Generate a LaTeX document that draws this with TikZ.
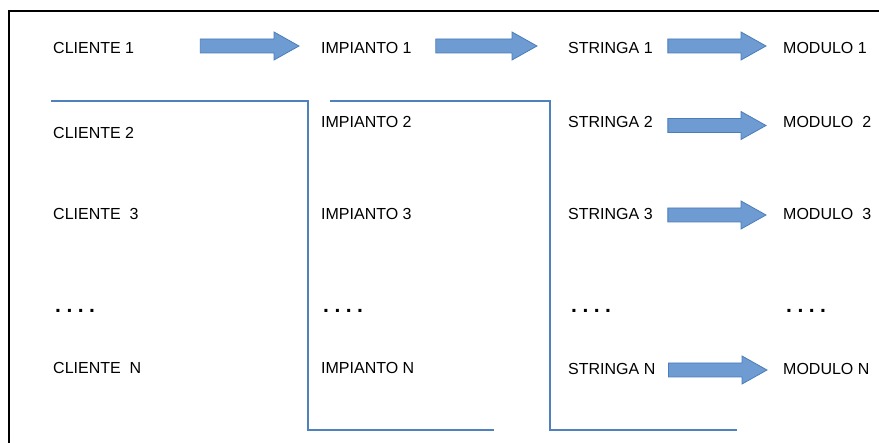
\documentclass[tikz,border=0pt]{standalone}
\usepackage{fontspec}
\setmainfont{Liberation Sans}
\usetikzlibrary{calc}

\definecolor{arrowfill}{RGB}{110,155,210}
\definecolor{arrowedge}{RGB}{74,126,187}
\definecolor{wireblue}{RGB}{79,129,189}

\begin{document}
\begin{tikzpicture}[
  x=1pt, y=-1pt,
  lbl/.style ={anchor=west, inner sep=0pt, font=\fontsize{16pt}{19pt}\selectfont},
  dots/.style={anchor=west, inner sep=0pt, font=\fontsize{21pt}{24pt}\selectfont\bfseries},
  wire/.style={draw=wireblue, line width=1.2pt},
  blk/.style ={draw=arrowedge, fill=arrowfill, line width=0.8pt,
               to path={let \p1=(\tikztostart), \p2=(\tikztotarget) in
                 (\x1,\y1+7pt) -- (\x2-25pt,\y1+7pt) -- (\x2-25pt,\y1+14pt)
                 -- (\x2,\y1) -- (\x2-25pt,\y1-14pt) -- (\x2-25pt,\y1-7pt)
                 -- (\x1,\y1-7pt) -- cycle}},
]
\clip (0,0) rectangle (879,443);
\fill[white] (0,0) rectangle (879,443);

% outer frame, cut off at the right and bottom
\draw[line width=2pt] (9,11) rectangle (905,470);

% ============================ columns of labels ============================
\node[lbl] (c1) at (53,48)  {CLIENTE 1};
\node[lbl] (c2) at (53,133) {CLIENTE 2};
\node[lbl] (c3) at (53,214) {CLIENTE~~3};
\node[lbl] (cn) at (53,368) {CLIENTE~~N};

\node[lbl] (i1) at (321,48)  {IMPIANTO 1};
\node[lbl] (i2) at (321,122) {IMPIANTO 2};
\node[lbl] (i3) at (321,214) {IMPIANTO 3};
\node[lbl] (in) at (321,368) {IMPIANTO N};

\node[lbl] (s1) at (568,48)  {STRINGA 1};
\node[lbl] (s2) at (568,122) {STRINGA 2};
\node[lbl] (s3) at (568,214) {STRINGA 3};
\node[lbl] (sn) at (568,369) {STRINGA N};

\node[lbl] (m1) at (783,48)  {MODULO 1};
\node[lbl] (m2) at (783,122) {MODULO~~2};
\node[lbl] (m3) at (783,214) {MODULO~~3};
\node[lbl] (mn) at (783,369) {MODULO N};

% the "...." row
\foreach \k/\x in {c/55, i/323, s/571, m/786} {
  \node[dots] (\k d) at (\x,311) {.\hspace{5.5pt}.\hspace{5.5pt}.\hspace{5.5pt}.};
}

% ============================ block arrows =================================
\draw[blk] ([shift={(66pt,2pt)}]c1.east) to ([xshift=-22pt]i1.west);
\draw[blk] ([shift={(24pt,2pt)}]i1.east) to ([xshift=-31pt]s1.west);
\draw[blk] ([shift={(15pt,2pt)}]s1.east) to ([xshift=-17pt]m1.west);
\draw[blk] ([shift={(15pt,-3.5pt)}]s2.east) to ([xshift=-17pt]m2.west);
\draw[blk] ([shift={(15pt,-1pt)}]s3.east) to ([xshift=-17pt]m3.west);
\draw[blk] ([shift={(13pt,-1pt)}]sn.east) to ([xshift=-16pt]mn.west);

% ============================ bracket lines ================================
\draw[wire] (51,101) -- (308,101) -- (308,430) -- (494,430);
\draw[wire] (330,101) -- (550,101) -- (550,430) -- (737,430);

\end{tikzpicture}
\end{document}
